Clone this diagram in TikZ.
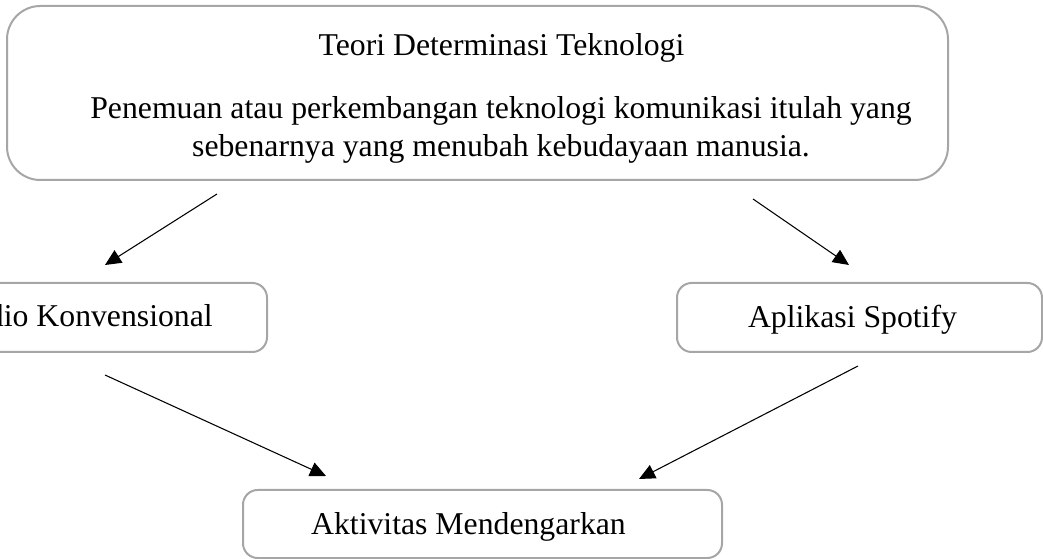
\documentclass[tikz,border=0pt]{standalone}
\usepackage{fontspec}
\setmainfont{Liberation Serif}
\usetikzlibrary{arrows.meta}
\begin{document}
\begin{tikzpicture}[x=0.75pt,y=-0.75pt,
  box/.style={draw=black!35,line width=1.5pt,rounded corners=11pt,fill=white,inner sep=0pt},
  conn/.style={line width=0.8pt,-{Triangle[length=12pt,width=11pt]}},
  lbl/.style={font=\fontsize{23.8}{28.3}\selectfont,inner sep=0pt,anchor=base}]
\useasboundingbox (0,0) rectangle (1043,559);
\clip (0,0) rectangle (1043,559);
% boxes
\node[box,rounded corners=25pt,minimum width=941*0.75pt,minimum height=174*0.75pt] (top) at (477.5,93) {};
\node[box,minimum width=351*0.75pt,minimum height=69*0.75pt] (radio) at (91.5,317.5) {};
\node[box,minimum width=365*0.75pt,minimum height=69*0.75pt] (spot) at (859.5,317.5) {};
\node[box,minimum width=479*0.75pt,minimum height=68*0.75pt] (akt) at (482.5,524) {};
% texts
\node[lbl] (t1) at (501.5,56) {Teori Determinasi Teknologi};
\node[lbl] (t2) at (501,119) {Penemuan atau perkembangan teknologi komunikasi itulah yang};
\node[lbl] (t3) at (501,156.7) {sebenarnya yang menubah kebudayaan manusia.};
\node[lbl,anchor=base east] (radiot) at (213,326.7) {Radio Konvensional};
\node[lbl] (spott) at (852.5,327.7) {Aplikasi Spotify};
\node[lbl] (aktt) at (468.5,534.3) {Aktivitas Mendengarkan};
% connector ends
\coordinate (a1) at (217,194);
\coordinate (a1e) at (105,265);
\coordinate (a2) at (753,199);
\coordinate (a2e) at (849,265);
\coordinate (a3) at (105,375);
\coordinate (a3e) at (326,476);
\coordinate (a4) at (858,366);
\coordinate (a4e) at (639,479);
\draw[conn] (a1) -- (a1e);
\draw[conn] (a2) -- (a2e);
\draw[conn] (a3) -- (a3e);
\draw[conn] (a4) -- (a4e);
\end{tikzpicture}
\end{document}
